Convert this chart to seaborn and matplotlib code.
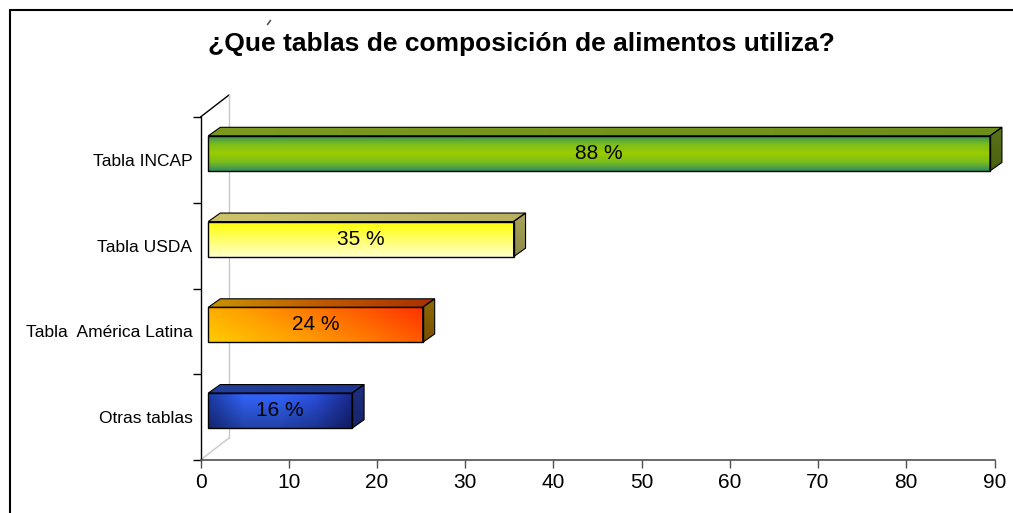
import numpy as np
import matplotlib
matplotlib.use("Agg")
import matplotlib.pyplot as plt
import seaborn as sns
import pandas as pd
from matplotlib.patches import Polygon
from matplotlib.lines import Line2D
from matplotlib.colors import to_rgb

# ---- data ----
categories = ["Tabla INCAP", "Tabla USDA", "Tabla  América Latina", "Otras tablas"]
values = [88.6, 34.6, 24.3, 16.3]          # bar lengths
bar_labels = ["88 %", "35 %", "24 %", "16 %"]
x_ticks = [0, 10, 20, 30, 40, 50, 60, 70, 80, 90]
title = "¿Que tablas de composición de alimentos utiliza?"

# ---- face gradient styles (kind, colors) ----
front_styles = [
    ("v", ["#2e8a60", "#7cbd1c", "#9acc00", "#7cbd1c", "#2e8a60"]),
    ("v", ["#ffff00", "#ffff66", "#ffffcc"]),
    ("d", ["#ffcc00", "#ffa000", "#ff6a00", "#ff3000"]),
    ("hs", ["#1c3aa8", "#3366ff", "#3366ff", "#2b50e0", "#1a2a90"]),
]
top_styles = [
    ("h", ["#7c9a20", "#6e8e1c"]),
    ("h", ["#cdc46a", "#b8b060"]),
    ("h", ["#c89400", "#c05a00", "#a83000"]),
    ("h", ["#223f9c", "#1c3690"]),
]
side_styles = [
    ("v", ["#5a7418", "#4a6010"]),
    ("v", ["#a8a45c", "#8e8a48"]),
    ("v", ["#8e6a00", "#7a4e00"]),
    ("v", ["#1e3080", "#162468"]),
]

sns.set_style("white")
plt.rcParams["font.family"] = ["Liberation Sans", "DejaVu Sans"]
plt.rcParams["text.color"] = "black"
plt.rcParams["xtick.color"] = "black"
plt.rcParams["ytick.color"] = "black"

W, H = 1013, 513
fig = plt.figure(figsize=(W / 100, H / 100), dpi=100)
ax = fig.add_axes([200.5 / W, 1 - 460 / H, 794 / W, 343 / H])

df = pd.DataFrame({"cat": categories, "val": values})
sns.barplot(data=df, x="val", y="cat", orient="h", width=0.41, color="white", ax=ax)
ax.set_xlim(0, 90)
ax.set_ylim(3.5, -0.5)

pos = ax.get_position()
px_x = pos.width * W / 90.0
px_y = pos.height * H / 4.0
fdx, fdy = 7.8 / px_x, -6.5 / px_y     # front-face offset
ddx, ddy = 12 / px_x, -8.5 / px_y      # bar depth
wdx, wdy = 28.5 / px_x, -22 / px_y     # wall depth


def grad_array(kind, colors, n=200):
    cols = np.array([to_rgb(c) for c in colors])
    stops = np.linspace(0, 1, len(cols))
    t = np.linspace(0, 1, n)
    X, Y = np.meshgrid(t, t)
    if kind == "v":
        tt = Y
    elif kind == "h":
        tt = X
    elif kind == "d":
        tt = 0.75 * X + 0.25 * (1 - Y)
    else:
        tt = X
    arr = np.stack([np.interp(tt.ravel(), stops, cols[:, k]).reshape(tt.shape)
                    for k in range(3)], -1)
    if kind == "hs":
        shade = (1 - 0.35 * Y)[..., None]
        arr = arr * shade
    return np.clip(arr, 0, 1)


def fill(patch, extent, style, z):
    kind, colors = style
    im = ax.imshow(grad_array(kind, colors), extent=extent, origin="upper",
                   aspect="auto", interpolation="bilinear", zorder=z)
    im.set_clip_box(fig.bbox)
    im.set_clip_path(patch)


# wall lines
ax.plot([0, wdx], [-0.5, -0.5 + wdy], color="black", lw=1, clip_on=False, zorder=1)
ax.plot([wdx, wdx], [-0.5 + wdy, 3.5 + wdy], color="#c8c8c8", lw=1, clip_on=False, zorder=1)
ax.plot([0, wdx], [3.5, 3.5 + wdy], color="#c8c8c8", lw=1, clip_on=False, zorder=1)

patches = list(ax.patches)[:len(values)]
for i, p in enumerate(patches):
    p.set_x(p.get_x() + fdx)
    p.set_y(p.get_y() + fdy)
    p.set_facecolor("none")
    p.set_edgecolor("black")
    p.set_linewidth(1)
    p.set_zorder(4)
    L = p.get_x()
    R = L + p.get_width()
    T = p.get_y()
    B = T + p.get_height()
    fill(p, (L, R, B, T), front_styles[i], 3)

    top = Polygon([(L, T), (R, T), (R + ddx, T + ddy), (L + ddx, T + ddy)],
                  closed=True, facecolor="none", edgecolor="black", lw=0.8,
                  zorder=4, clip_on=False)
    ax.add_patch(top)
    fill(top, (L, R + ddx, T, T + ddy), top_styles[i], 3)

    side = Polygon([(R, T), (R + ddx, T + ddy), (R + ddx, B + ddy), (R, B)],
                   closed=True, facecolor="none", edgecolor="black", lw=0.8,
                   zorder=4, clip_on=False)
    ax.add_patch(side)
    fill(side, (R, R + ddx, B, T + ddy), side_styles[i], 3)

    ax.text((L + R) / 2, (T + B) / 2, bar_labels[i], ha="center", va="center",
            fontsize=15, color="black", zorder=6)

ax.set_xlim(0, 90)
ax.set_ylim(3.5, -0.5)
ax.set_xlabel("")
ax.set_ylabel("")

# axes styling
for s in ["top", "right"]:
    ax.spines[s].set_visible(False)
ax.spines["left"].set_color("black")
ax.spines["left"].set_linewidth(1)
ax.spines["bottom"].set_color("#505050")
ax.spines["bottom"].set_linewidth(1.2)

ax.set_xticks(x_ticks)
ax.set_xticklabels([str(v) for v in x_ticks])
ax.tick_params(axis="x", which="major", length=6, width=1, color="#505050",
               labelcolor="black", direction="out", labelsize=15, pad=3, bottom=True)
ax.set_yticks(range(len(categories)))
ax.set_yticklabels(categories)
ax.tick_params(axis="y", which="major", length=0, labelsize=12.5, pad=5.8,
               labelcolor="black", left=True)
ax.set_yticks(np.arange(-0.5, len(categories), 1.0), minor=True)
ax.tick_params(axis="y", which="minor", length=6, width=1, color="black",
               direction="out", left=True)
ax.grid(False)

# title and stray mark
fig.text(521 / W, 1 - 51 / H, title, ha="center", va="baseline",
         fontsize=19, fontweight="bold", color="black")
fig.add_artist(Line2D([267.5 / W, 270.5 / W], [1 - 24.5 / H, 1 - 20.5 / H],
                      transform=fig.transFigure, color="#555555", lw=1.2))

# outer frame (left and top edges)
fig.add_artist(Line2D([9.5 / W, 9.5 / W], [0, 1 - 9.5 / H], transform=fig.transFigure,
                      color="black", lw=1.5))
fig.add_artist(Line2D([9.5 / W, 1], [1 - 9.5 / H, 1 - 9.5 / H], transform=fig.transFigure,
                      color="black", lw=1.5))

fig.savefig("out.png", dpi=100)
